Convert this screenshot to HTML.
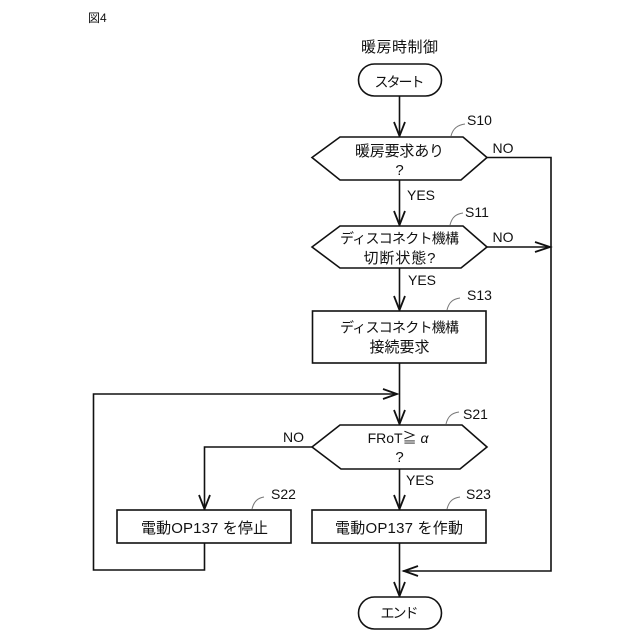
<!DOCTYPE html>
<html lang="ja"><head><meta charset="utf-8"><title>図4</title>
<style>html,body{margin:0;padding:0;background:#fff}svg{display:block}
text{font-family:"Liberation Sans","Noto Sans CJK JP",sans-serif;fill:#111}
.j{font-size:15px;text-anchor:middle}.k{font-size:14px;text-anchor:middle}.l{font-size:14px}.s{font-size:14px}
.b{fill:#fff;stroke:#111;stroke-width:1.6}.c{fill:none;stroke:#111;stroke-width:1.6}
.a{fill:none;stroke:#111;stroke-width:1.8}.q{fill:none;stroke:#777;stroke-width:1}</style></head>
<body>
<svg width="640" height="640" viewBox="0 0 640 640" xmlns="http://www.w3.org/2000/svg">
<text x="88" y="22" style="font-size:12px">図4</text>
<text class="j" x="399.500" y="52" textLength="77">暖房時制御</text>
<path class="c" d="M399.500 96V137M399.500 180V226M399.500 268V311M399.500 363V425M399.500 469V510M399.500 543V597"/>
<path class="c" d="M487 157.500H551V571H403M487 247H549M312 447H204.500V510M204.500 543V570H93.500V394H397"/>
<g class="a">
<path d="M394 122L399.500 136L405 122"/><path d="M394 211L399.500 225L405 211"/><path d="M394 296L399.500 310L405 296"/>
<path d="M394 410L399.500 424L405 410"/><path d="M394 495L399.500 509L405 495"/><path d="M394 582L399.500 596L405 582"/>
<path d="M199 495L204.500 509L210 495"/><path d="M535 242L550 247L535 252"/><path d="M383 389L397 394L383 399"/><path d="M418 566L404 571L418 576"/>
</g>
<rect class="b" x="358.500" y="64" width="83" height="32" rx="16"/>
<polygon class="b" points="312,157.500 340,137 463,137 487,157.500 461,180 340,180"/>
<polygon class="b" points="312,247 340,226 463,226 487,247 461,268 340,268"/>
<rect class="b" x="312.500" y="311" width="173.500" height="52"/>
<polygon class="b" points="312,447 340,425 462,425 487,447 460,469 341,469"/>
<rect class="b" x="117" y="510" width="174" height="33"/>
<rect class="b" x="312" y="510" width="174" height="33"/>
<rect class="b" x="358.500" y="597" width="83" height="32" rx="16"/>
<path class="q" d="M451 136C453 128 458 125 465 124M450 225C452 217 456 214 463 213M447 310C449 302 453 299 460 298M446 424C448 416 452 413 459 412M252 509C254 501 258 498 264 497M447 509C449 501 453 498 460 497"/>
<text class="k" x="399.500" y="87" textLength="50">スタート</text>
<text class="j" x="399.500" y="156" textLength="89">暖房要求あり</text><text class="j" x="399.500" y="175" font-size="16">?</text>
<text class="k" x="399.500" y="243.500" textLength="119">ディスコネクト機構</text><text class="j" x="399.500" y="263" textLength="72">切断状態?</text>
<text class="k" x="399.500" y="332.500" textLength="119">ディスコネクト機構</text><text class="j" x="399.500" y="352" textLength="60">接続要求</text>
<text class="k" x="398" y="443">FRoT≧ <tspan font-style="italic">α</tspan></text><text class="j" x="399.500" y="462">?</text>
<text class="j" x="204.500" y="533" textLength="127">電動OP137 を停止</text><text class="j" x="399" y="533" textLength="128">電動OP137 を作動</text>
<text class="k" x="399.500" y="618" textLength="38">エンド</text>
<text class="l" x="407" y="200">YES</text><text class="l" x="408" y="285">YES</text><text class="l" x="406" y="485">YES</text>
<text class="l" x="492.500" y="153">NO</text><text class="l" x="492.500" y="242">NO</text><text class="l" x="283" y="442">NO</text>
<text class="s" x="467" y="125">S10</text><text class="s" x="465" y="217">S11</text><text class="s" x="467" y="300">S13</text>
<text class="s" x="463" y="419">S21</text><text class="s" x="271" y="499">S22</text><text class="s" x="466" y="499">S23</text>
</svg></body></html>
